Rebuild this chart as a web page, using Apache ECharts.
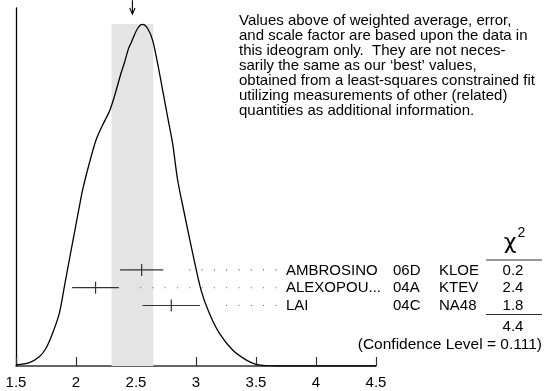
<!DOCTYPE html>
<html><head><meta charset="utf-8">
<script src="https://cdn.jsdelivr.net/npm/echarts@6/dist/echarts.min.js"></script>
<style>html,body{margin:0;padding:0;background:#fff}#c{width:548px;height:391px}</style>
</head><body><div id="c"></div>
<script>
// ideogram curve (x value, relative height)
const curveX = [1.500,1.611,1.694,1.750,1.805,1.861,1.903,1.944,1.986,2.028,2.055,2.111,2.167,2.222,2.278,2.319,2.375,2.403,2.438,2.458,2.513,2.555,2.597,2.638,2.680,2.722,2.763,2.805,2.847,2.903,2.972,3.042,3.111,3.194,3.305,3.417,3.500,3.667,4.000,4.500];
const curveY = [0.003,0.010,0.027,0.052,0.096,0.154,0.232,0.310,0.388,0.466,0.515,0.593,0.661,0.705,0.744,0.787,0.856,0.886,0.929,0.944,0.987,0.999,0.987,0.953,0.885,0.807,0.729,0.651,0.544,0.446,0.330,0.222,0.154,0.096,0.047,0.018,0.005,0.000,0.000,0.000];
const measNames = ['AMBROSINO','ALEXOPOU...','LAI'];
const measYears = ['06D','04A','04C'];
const measExps = ['KLOE','KTEV','NA48'];
const measVal = [2.547, 2.163, 2.794];
const measErr = [0.180, 0.195, 0.240];
const measChi2 = ['0.2','2.4','1.8'];
const rowY = [0.281, 0.229, 0.177];
const chi2Total = '4.4';
const confLevel = '(Confidence Level = 0.111)';
const average = 2.470;
const avgErr = 0.174;
const xTicks = [1.5, 2, 2.5, 3, 3.5, 4, 4.5];
const noteLines = [
 'Values above of weighted average, error,',
 'and scale factor are based upon the data in',
 'this ideogram only.  They are not neces-',
 'sarily the same as our \u2018best\u2019 values,',
 'obtained from a least-squares constrained fit',
 'utilizing measurements of other (related)',
 'quantities as additional information.'
];

const FONT = 'Liberation Sans, Arial, Helvetica, sans-serif';
const chart = echarts.init(document.getElementById('c'), null, {renderer:'canvas'});
const curveData = curveX.map((x,i)=>[x, curveY[i]]);
const measData = measVal.map((v,i)=>[v, measErr[i], rowY[i], i]);
const dotEnd = 3.67;

chart.setOption({
  animation:false,
  grid:{left:16, right:172, top:8, bottom:25},
  xAxis:{type:'value', min:1.5, max:4.5, interval:0.5,
    axisLine:{lineStyle:{color:'#333', width:1.5}},
    axisTick:{inside:true, length:9, lineStyle:{color:'#333', width:1.2}},
    axisLabel:{margin:9, fontSize:15, color:'#000', fontFamily:FONT,
      formatter:v=>xTicks.includes(+v.toFixed(2)) ? String(+v.toFixed(2)) : ''},
    splitLine:{show:false}},
  yAxis:{type:'value', min:0, max:1.047,
    axisLine:{show:true, lineStyle:{color:'#000', width:1.3}},
    axisTick:{show:false}, axisLabel:{show:false}, splitLine:{show:false}},
  series:[
    {type:'line', data:curveData, showSymbol:false, smooth:0.3, z:3,
      lineStyle:{color:'#000', width:1.3},
      markArea:{silent:true, itemStyle:{color:'#e4e4e4'},
        data:[[{xAxis:average-avgErr, yAxis:0},{xAxis:average+avgErr, yAxis:1.0}]]}},
    {type:'custom', data:measData, z:4, clip:false,
      renderItem:(params, api)=>{
        const v = api.value(0), e = api.value(1), y = api.value(2), i = api.value(3);
        const lo = api.coord([v-e, y]), hi = api.coord([v+e, y]), c = api.coord([v, y]);
        const ds = api.coord([v+e+0.15, y]), de = api.coord([dotEnd, y]);
        const st = {stroke:'#333', lineWidth:1.2};
        const tx = (t, x, align) => ({type:'text', style:{text:t, x:x, y:c[1]+0.5, align:align, verticalAlign:'middle', font:'15px '+FONT, fill:'#000'}});
        return {type:'group', children:[
          {type:'line', shape:{x1:lo[0], y1:lo[1], x2:hi[0], y2:hi[1]}, style:st},
          {type:'line', shape:{x1:c[0], y1:c[1]-6, x2:c[0], y2:c[1]+6}, style:st},
          {type:'line', shape:{x1:de[0], y1:de[1], x2:ds[0], y2:ds[1]}, style:{stroke:'#666', lineWidth:1.1, lineDash:[1.1,11.2]}},
          tx(measNames[i], 286, 'left'),
          tx(measYears[i], 393, 'left'),
          tx(measExps[i], 439, 'left'),
          tx(measChi2[i], 513, 'center')
        ]};
      }},
    {type:'custom', data:[[average]], z:5, clip:false,
      renderItem:(params, api)=>{
        const x = api.value(0);
        const top = api.coord([x, 1.070]), tip = api.coord([x, 1.029]);
        const l = api.coord([x-0.022, 1.047]), r = api.coord([x+0.022, 1.047]);
        const st = {stroke:'#000', lineWidth:1.1, fill:null};
        return {type:'group', children:[
          {type:'line', shape:{x1:top[0], y1:top[1], x2:tip[0], y2:tip[1]}, style:st},
          {type:'polyline', shape:{points:[l, tip, r]}, style:st}
        ]};
      }}
  ],
  graphic:[
    {type:'text', left:239, top:13, style:{text:noteLines.join('\n'), font:'15px '+FONT, lineHeight:15, fill:'#000'}},
    {type:'text', x:510, y:243, style:{text:'\u03c7', font:'22px DejaVu Sans', align:'center', verticalAlign:'middle', fill:'#000'}},
    {type:'text', x:521.5, y:233, style:{text:'2', font:'14px '+FONT, align:'center', verticalAlign:'middle', fill:'#000'}},
    {type:'line', shape:{x1:486, y1:260, x2:542, y2:260}, style:{stroke:'#333', lineWidth:1.2}},
    {type:'line', shape:{x1:486, y1:314.5, x2:542, y2:314.5}, style:{stroke:'#333', lineWidth:1.2}},
    {type:'text', x:513, y:326.5, style:{text:chi2Total, font:'15px '+FONT, align:'center', verticalAlign:'middle', fill:'#000'}},
    {type:'text', x:542, y:344.5, style:{text:confLevel, font:'15.5px '+FONT, align:'right', verticalAlign:'middle', fill:'#000'}}
  ]
});
</script></body></html>
